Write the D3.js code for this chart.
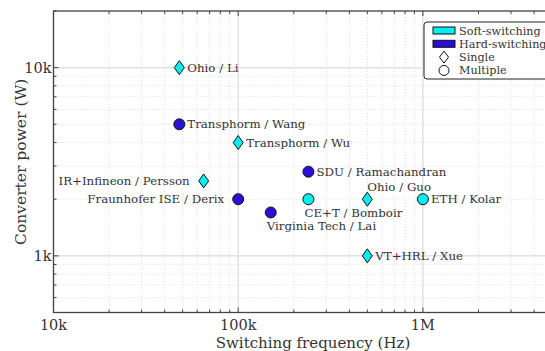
<!DOCTYPE html>
<html>
<head>
<meta charset="utf-8">
<script src="https://cdn.jsdelivr.net/npm/d3@7"></script>
<style>
  body { margin: 0; background: #fff; overflow: hidden; }
  svg { display: block; }
</style>
</head>
<body>
<svg id="chart" width="545" height="351" font-family="DejaVu Serif, Liberation Serif, serif"></svg>
<script>
// data
var names = ["Ohio / Li", "Transphorm / Wang", "Transphorm / Wu", "SDU / Ramachandran",
  "IR+Infineon / Persson", "Fraunhofer ISE / Derix", "Virginia Tech / Lai",
  "CE+T / Bomboir", "Ohio / Guo", "ETH / Kolar", "VT+HRL / Xue"];
var freq = [48e3, 48e3, 100e3, 240e3, 65e3, 100e3, 150e3, 240e3, 500e3, 1e6, 500e3];
var power = [10000, 5000, 4000, 2800, 2500, 2000, 1700, 2000, 2000, 2000, 1000];
var switching = ["soft", "hard", "soft", "hard", "soft", "hard", "hard", "soft", "soft", "soft", "soft"];
var stages = ["single", "multiple", "single", "multiple", "single", "multiple", "multiple",
  "multiple", "single", "multiple", "single"];
// where the label sits around the mark
var labelPos = ["right", "right", "right", "right", "left", "left", "below",
  "below", "above", "right", "right"];
var xTicks = [1e4, 1e5, 1e6];
var xTickLabels = ["10k", "100k", "1M"];
var yTicks = [1e3, 1e4];
var yTickLabels = ["1k", "10k"];

var svg = d3.select("#chart");
var pLeft = 53.5, pRight = 552, pTop = 11, pBottom = 312.5;

var x = d3.scaleLog().domain([1e4, 5e6]).range([pLeft, pRight]);
var y = d3.scaleLog().domain([500, 20000]).range([pBottom, pTop]);

var colors = { soft: "#00eeee", hard: "#2a10d6" };
var ink = "#333";

// minor ticks for log axes
function minors(lo, hi) {
  var out = [];
  for (var e = Math.floor(Math.log10(lo)); e <= Math.ceil(Math.log10(hi)); e++) {
    for (var m = 1; m < 10; m++) {
      var v = m * Math.pow(10, e);
      if (v >= lo && v <= hi) out.push(v);
    }
  }
  return out;
}
var xMinor = minors(1e4, 5e6), yMinor = minors(500, 20000);

var grid = svg.append("g");
grid.selectAll(".gx").data(xMinor).enter().append("line")
  .attr("x1", function(d) { return x(d); }).attr("x2", function(d) { return x(d); })
  .attr("y1", pTop).attr("y2", pBottom)
  .attr("stroke", function(d) { return xTicks.indexOf(d) >= 0 ? "#e2e2e2" : "#d4d4d4"; })
  .attr("stroke-width", function(d) { return xTicks.indexOf(d) >= 0 ? 1.5 : 0.8; })
  .attr("stroke-dasharray", function(d) { return xTicks.indexOf(d) >= 0 ? null : "1,2"; });
grid.selectAll(".gy").data(yMinor).enter().append("line")
  .attr("y1", function(d) { return y(d); }).attr("y2", function(d) { return y(d); })
  .attr("x1", pLeft).attr("x2", pRight)
  .attr("stroke", function(d) { return yTicks.indexOf(d) >= 0 ? "#e2e2e2" : "#d4d4d4"; })
  .attr("stroke-width", function(d) { return yTicks.indexOf(d) >= 0 ? 1.5 : 0.8; })
  .attr("stroke-dasharray", function(d) { return yTicks.indexOf(d) >= 0 ? null : "1,2"; });

// axes with inward ticks on all sides
function tickLen(d, majors) { return majors.indexOf(d) >= 0 ? 5 : 3; }
var axes = svg.append("g").attr("stroke", "#444");
xMinor.forEach(function(d) {
  var l = tickLen(d, xTicks);
  axes.append("line").attr("x1", x(d)).attr("x2", x(d)).attr("y1", pBottom).attr("y2", pBottom - l);
  axes.append("line").attr("x1", x(d)).attr("x2", x(d)).attr("y1", pTop).attr("y2", pTop + l);
});
yMinor.forEach(function(d) {
  var l = tickLen(d, yTicks);
  axes.append("line").attr("y1", y(d)).attr("y2", y(d)).attr("x1", pLeft).attr("x2", pLeft + l);
  axes.append("line").attr("y1", y(d)).attr("y2", y(d)).attr("x1", pRight).attr("x2", pRight - l);
});
axes.append("rect").attr("x", pLeft).attr("y", pTop)
  .attr("width", pRight - pLeft).attr("height", pBottom - pTop)
  .attr("fill", "none").attr("stroke-width", 1.3);

svg.selectAll(".xl").data(xTicks).enter().append("text")
  .attr("x", function(d) { return x(d); }).attr("y", pBottom + 17)
  .attr("text-anchor", "middle").attr("font-size", 14.5).attr("fill", ink)
  .text(function(d, i) { return xTickLabels[i]; });
svg.selectAll(".yl").data(yTicks).enter().append("text")
  .attr("x", pLeft - 2).attr("y", function(d) { return y(d) + 5; })
  .attr("text-anchor", "end").attr("font-size", 14.5).attr("fill", ink)
  .text(function(d, i) { return yTickLabels[i]; });

svg.append("text").attr("x", 313).attr("y", 348).attr("text-anchor", "middle")
  .attr("font-size", 15).attr("fill", ink).text("Switching frequency (Hz)");
svg.append("text").attr("transform", "translate(26," + ((pTop + pBottom) / 2) + ") rotate(-90)")
  .attr("text-anchor", "middle").attr("font-size", 15.5).attr("fill", ink).text("Converter power (W)");

// marks
var diamond = "M0,-7L5,0L0,7L-5,0Z";
var pts = svg.append("g").selectAll("g").data(names).enter().append("g")
  .attr("transform", function(d, i) { return "translate(" + x(freq[i]) + "," + y(power[i]) + ")"; });
pts.each(function(d, i) {
  var g = d3.select(this);
  if (stages[i] === "single") {
    g.append("path").attr("d", diamond);
  } else {
    g.append("circle").attr("r", 5.5);
  }
  g.select("*").attr("fill", colors[switching[i]]).attr("stroke", "#111").attr("stroke-width", 1);
  var t = g.append("text").attr("font-size", 11.8).attr("fill", ink).text(d);
  var p = labelPos[i];
  if (p === "right") t.attr("x", 8).attr("y", 4);
  else if (p === "left") t.attr("x", -14).attr("y", 4).attr("text-anchor", "end");
  else if (p === "below") t.attr("x", -4).attr("y", 18);
  else if (p === "above") t.attr("x", 0).attr("y", -8);
});

// legend
var leg = svg.append("g").attr("transform", "translate(424,22)");
leg.append("rect").attr("width", 140).attr("height", 57).attr("rx", 3)
  .attr("fill", "#fff").attr("stroke", "#222").attr("stroke-width", 1);
var legNames = ["Soft-switching", "Hard-switching", "Single", "Multiple"];
legNames.forEach(function(n, i) {
  var cy = 8.5 + i * 13.3;
  if (i < 2) {
    leg.append("rect").attr("x", 9).attr("y", cy - 3.5).attr("width", 22).attr("height", 7)
      .attr("fill", i === 0 ? colors.soft : colors.hard).attr("stroke", "#111");
  } else if (i === 2) {
    leg.append("path").attr("d", "M0,-6L4.5,0L0,6L-4.5,0Z")
      .attr("transform", "translate(20," + cy + ")").attr("fill", "#fff").attr("stroke", "#111");
  } else {
    leg.append("circle").attr("cx", 20).attr("cy", cy).attr("r", 5)
      .attr("fill", "#fff").attr("stroke", "#111");
  }
  leg.append("text").attr("x", 35).attr("y", cy + 4).attr("font-size", 11.2).attr("fill", ink).text(n);
});
</script>
</body>
</html>
